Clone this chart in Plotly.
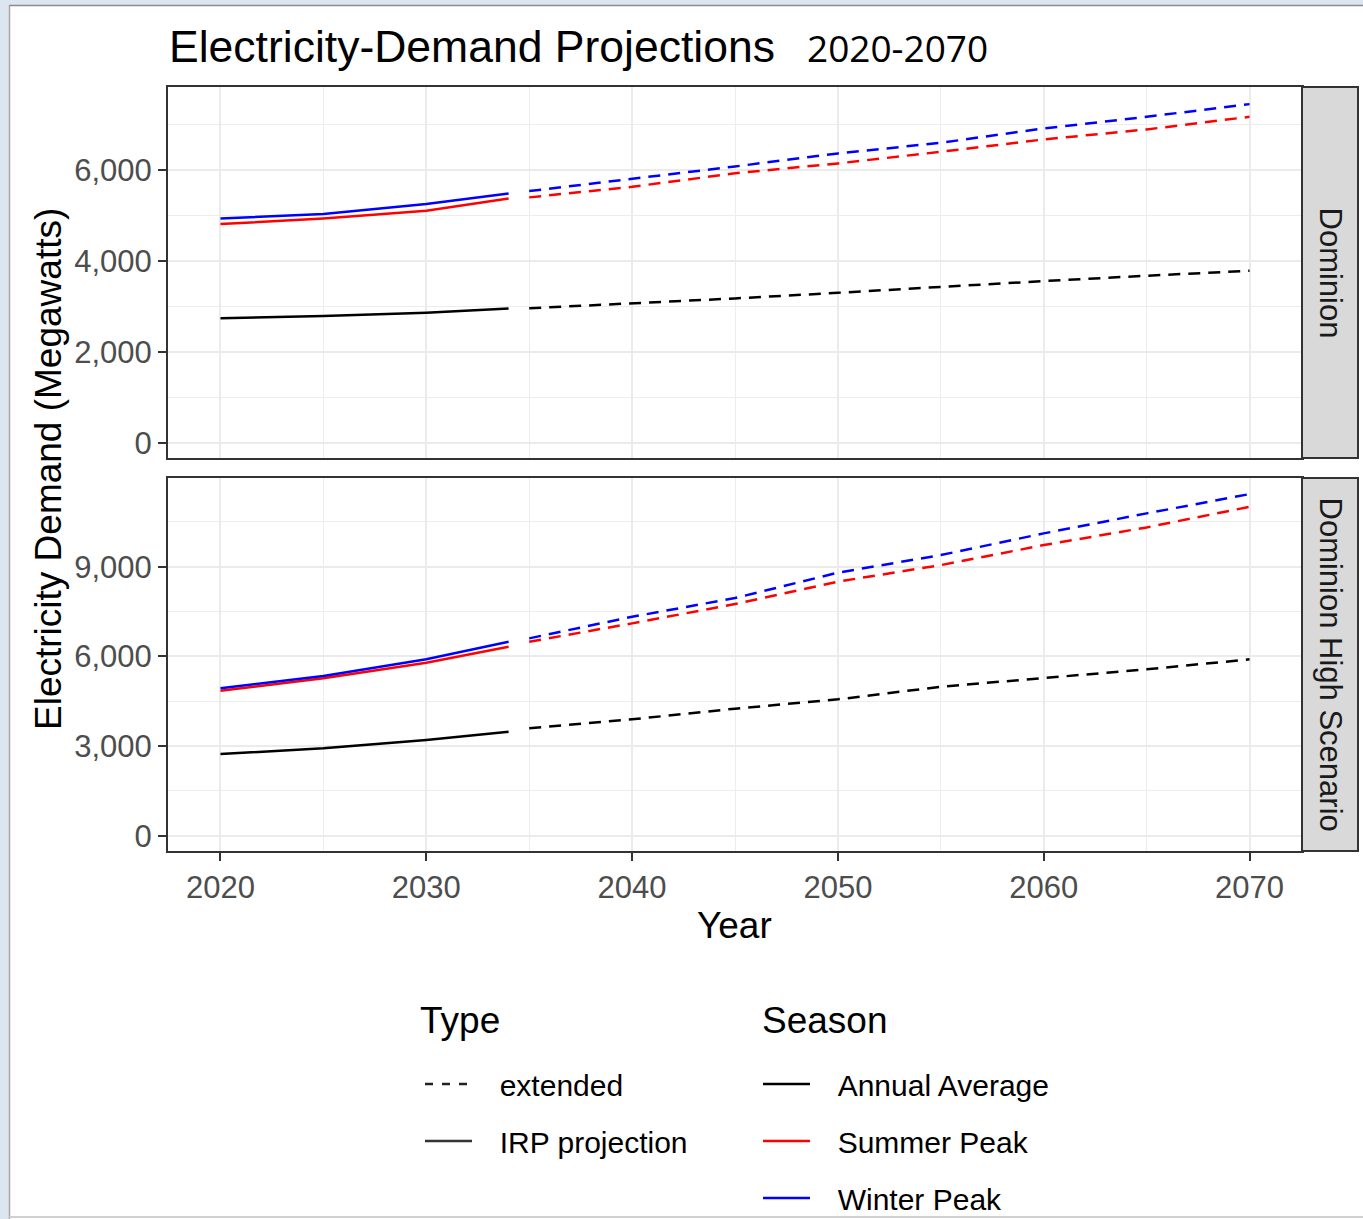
import plotly.graph_objects as go

# ---------------- data ----------------
years_irp = [2020, 2025, 2030, 2034]
years_ext = [2035, 2040, 2045, 2050, 2055, 2060, 2065, 2070]

dom_avg_irp = [2737, 2790, 2860, 2955]
dom_avg_ext = [2960, 3066, 3176, 3300, 3433, 3558, 3675, 3785]
dom_sum_irp = [4812, 4937, 5105, 5377]
dom_sum_ext = [5400, 5633, 5930, 6147, 6403, 6675, 6895, 7173]
dom_win_irp = [4937, 5032, 5252, 5487]
dom_win_ext = [5538, 5802, 6080, 6367, 6601, 6917, 7173, 7452]

high_avg_irp = [2732, 2923, 3201, 3478]
high_avg_ext = [3592, 3893, 4250, 4562, 4983, 5264, 5565, 5900]
high_sum_irp = [4849, 5264, 5786, 6321]
high_sum_ext = [6488, 7104, 7750, 8500, 9053, 9722, 10314, 11003]
high_win_irp = [4930, 5341, 5900, 6488]
high_win_ext = [6602, 7324, 7950, 8800, 9388, 10114, 10783, 11428]

seasons = ["Annual Average", "Summer Peak", "Winter Peak"]
season_colors = {"Annual Average": "black", "Summer Peak": "#FF0000", "Winter Peak": "#0000FF"}
types = ["extended", "IRP projection"]
facets = ["Dominion", "Dominion High Scenario"]

panel_data = {
    "Dominion": {
        "Annual Average": (dom_avg_irp, dom_avg_ext),
        "Summer Peak": (dom_sum_irp, dom_sum_ext),
        "Winter Peak": (dom_win_irp, dom_win_ext),
    },
    "Dominion High Scenario": {
        "Annual Average": (high_avg_irp, high_avg_ext),
        "Summer Peak": (high_sum_irp, high_sum_ext),
        "Winter Peak": (high_win_irp, high_win_ext),
    },
}

# ---------------- geometry helpers ----------------
W, H = 1363, 1219
ML, MR, MT, MB = 168, 5, 87, 368
PW = W - ML - MR
PH = H - MT - MB

def px(x):
    return (x - ML) / PW

def py(y):
    return (H - MB - y) / PH

FONT = "Liberation Sans, Arial, sans-serif"
DASH = "12px,8px"
GAP = "\u00a0\u00a0\u2009"

fig = go.Figure()

axis_ids = {"Dominion": ("x", "y"), "Dominion High Scenario": ("x2", "y2")}
for facet in facets:
    xa, ya = axis_ids[facet]
    for s in seasons:
        irp, ext = panel_data[facet][s]
        fig.add_trace(go.Scatter(x=years_irp, y=irp, mode="lines", xaxis=xa, yaxis=ya,
                                 line=dict(color=season_colors[s], width=2.5),
                                 showlegend=False, hoverinfo="skip"))
        fig.add_trace(go.Scatter(x=years_ext, y=ext, mode="lines", xaxis=xa, yaxis=ya,
                                 line=dict(color=season_colors[s], width=2.5, dash=DASH),
                                 showlegend=False, hoverinfo="skip"))

# legend entries
fig.add_trace(go.Scatter(x=[None], y=[None], mode="lines", name=GAP + "extended", legend="legend",
                         legendgroup="t1", line=dict(color="#222222", width=2.5, dash="8px,9px")))
fig.add_trace(go.Scatter(x=[None], y=[None], mode="lines", name=GAP + "IRP projection", legend="legend",
                         legendgroup="t2", line=dict(color="#333333", width=2.5)))
for i, s in enumerate(seasons):
    fig.add_trace(go.Scatter(x=[None], y=[None], mode="lines", name=GAP + s, legend="legend2",
                             legendgroup="s%d" % i, line=dict(color=season_colors[s], width=2.5)))

xdom = [0, px(1302)]
common_x = dict(range=[2017.45, 2072.55], domain=xdom, showgrid=True, gridcolor="#EBEBEB",
                gridwidth=2, tickvals=[2020, 2030, 2040, 2050, 2060, 2070],
                minor=dict(tickvals=[2025, 2035, 2045, 2055, 2065], showgrid=True,
                           gridcolor="#EDEDED", gridwidth=1.3),
                showline=True, mirror=True, linecolor="#333333", linewidth=2,
                zeroline=False, fixedrange=True)
TICKFONT = dict(family=FONT, size=31, color="#4D4D4D")
fig.update_layout(
    xaxis=dict(**common_x, anchor="y", matches="x2", showticklabels=False, ticks=""),
    xaxis2=dict(**common_x, anchor="y2", ticks="outside", ticklen=8, tickwidth=2,
                tickcolor="#333333", tickfont=TICKFONT),
    yaxis=dict(domain=[py(458), 1], range=[-336, 7829], tickvals=[0, 2000, 4000, 6000],
               ticktext=["0", "2,000", "4,000", "6,000"],
               minor=dict(tickvals=[1000, 3000, 5000, 7000], showgrid=True,
                          gridcolor="#EDEDED", gridwidth=1.3),
               anchor="x"),
    yaxis2=dict(domain=[0, py(478)], range=[-512, 11967], tickvals=[0, 3000, 6000, 9000],
                ticktext=["0", "3,000", "6,000", "9,000"],
                minor=dict(tickvals=[1500, 4500, 7500, 10500], showgrid=True,
                           gridcolor="#EDEDED", gridwidth=1.3),
                anchor="x2"),
)
for ax in ["yaxis", "yaxis2"]:
    fig.layout[ax].update(showgrid=True, gridcolor="#EBEBEB", gridwidth=2,
                          showline=True, mirror=True, linecolor="#333333", linewidth=2,
                          zeroline=False, ticks="outside", ticklen=8, tickwidth=2,
                          tickcolor="#333333", tickfont=TICKFONT, fixedrange=True)

shapes = []
# facet strips
for facet, yref in [("Dominion", "y domain"), ("Dominion High Scenario", "y2 domain")]:
    shapes.append(dict(type="rect", xref="paper", yref=yref, x0=px(1302), x1=px(1358),
                       y0=0, y1=1, fillcolor="#D9D9D9", line=dict(color="#333333", width=2)))
# screenshot frame
shapes.append(dict(type="rect", xref="paper", yref="paper", x0=px(0), x1=px(9), y0=py(H), y1=py(0),
                   fillcolor="#DCE6F1", line=dict(width=0), layer="below"))
shapes.append(dict(type="rect", xref="paper", yref="paper", x0=px(0), x1=px(W), y0=py(5), y1=py(0),
                   fillcolor="#DCE6F1", line=dict(width=0), layer="below"))
shapes.append(dict(type="line", xref="paper", yref="paper", x0=px(9.5), x1=px(9.5), y0=py(H), y1=py(5),
                   line=dict(color="#A6A6A6", width=1.5)))
shapes.append(dict(type="line", xref="paper", yref="paper", x0=px(9.5), x1=px(W), y0=py(5.5), y1=py(5.5),
                   line=dict(color="#8C8C8C", width=1.5)))
shapes.append(dict(type="line", xref="paper", yref="paper", x0=px(9.5), x1=px(W), y0=py(1217), y1=py(1217),
                   line=dict(color="#D0D0D0", width=2)))

annotations = [
    dict(text="Dominion", xref="paper", yref="y domain", x=px(1330), y=0.5, textangle=90,
         showarrow=False, font=dict(family=FONT, size=31, color="#1A1A1A"),
         xanchor="center", yanchor="middle"),
    dict(text="Dominion High Scenario", xref="paper", yref="y2 domain", x=px(1330), y=0.5,
         textangle=90, showarrow=False, font=dict(family=FONT, size=31, color="#1A1A1A"),
         xanchor="center", yanchor="middle"),
    dict(text="Electricity Demand (Megawatts)", xref="paper", yref="paper", x=px(48), y=py(469),
         textangle=-90, showarrow=False, font=dict(family=FONT, size=37, color="black"),
         xanchor="center", yanchor="middle"),
    dict(text="Year", xref="paper", yref="paper", x=px(734), y=py(926), showarrow=False,
         font=dict(family=FONT, size=37, color="black"), xanchor="center", yanchor="middle"),
    dict(text="Electricity-Demand Projections", xref="paper", yref="paper", x=px(167), y=py(46),
         showarrow=False, font=dict(family=FONT, size=44.5, color="black"),
         xanchor="left", yanchor="middle"),
    dict(text="2020-2070", xref="paper", yref="paper", x=px(805), y=py(47),
         showarrow=False, font=dict(family="Open Sans, sans-serif", size=37, color="black"),
         xanchor="left", yanchor="middle"),
    dict(text="Type", xref="paper", yref="paper", x=px(418), y=py(1020), showarrow=False,
         font=dict(family=FONT, size=37, color="black"), xanchor="left", yanchor="middle"),
    dict(text="Season", xref="paper", yref="paper", x=px(760), y=py(1020), showarrow=False,
         font=dict(family=FONT, size=37, color="black"), xanchor="left", yanchor="middle"),
]

LEGFONT = dict(family=FONT, size=30, color="black")
fig.update_layout(
    width=W, height=H,
    margin=dict(l=ML, r=MR, t=MT, b=MB, autoexpand=False),
    paper_bgcolor="white", plot_bgcolor="white",
    shapes=shapes, annotations=annotations,
    legend=dict(x=px(420), y=py(1058), xanchor="left", yanchor="top", orientation="v",
                font=LEGFONT, traceorder="grouped",
                tracegroupgap=15, itemwidth=47, bgcolor="rgba(0,0,0,0)"),
    legend2=dict(x=px(758), y=py(1058), xanchor="left", yanchor="top", orientation="v",
                 font=LEGFONT, traceorder="grouped",
                 tracegroupgap=15, itemwidth=47, bgcolor="rgba(0,0,0,0)"),
)

fig.write_html("out.html", config={"displayModeBar": False},
               post_script="document.body.style.margin='0';document.body.style.overflow='hidden';")
